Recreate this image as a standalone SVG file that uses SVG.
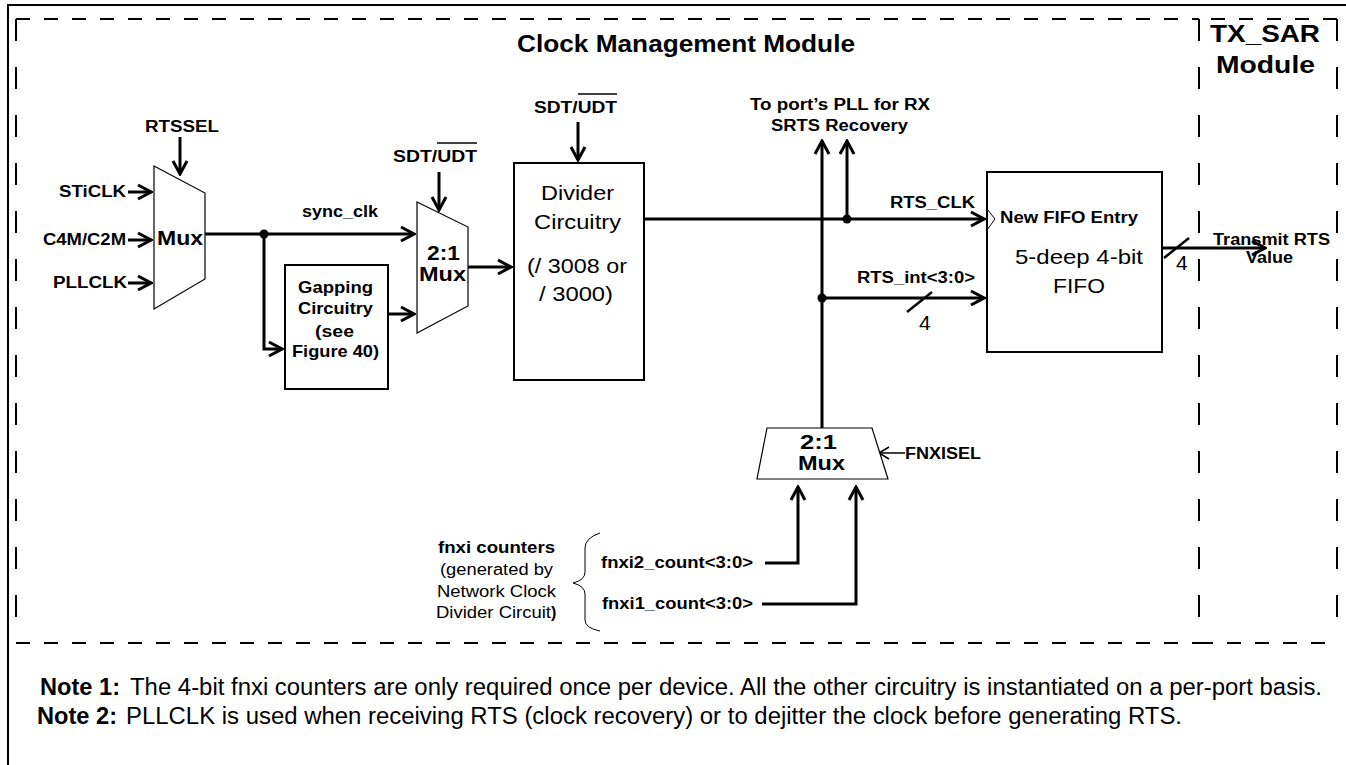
<svg xmlns="http://www.w3.org/2000/svg" width="1346" height="765" viewBox="0 0 1346 765">
<defs>
<style>
.b{font-family:"Liberation Sans",Arial,sans-serif;font-weight:bold;fill:#000}
.r{font-family:"Liberation Sans",Arial,sans-serif;font-weight:normal;fill:#000}
.w{stroke:#000;stroke-width:3;fill:none}
.thin{stroke:#000;stroke-width:1.2;fill:#fff}
.box{stroke:#000;stroke-width:2;fill:#fff}
.dh{stroke:#000;stroke-width:2;fill:none;stroke-dasharray:14 14}
.dv{stroke:#000;stroke-width:2;fill:none;stroke-dasharray:22 26}
</style>
<marker id="ah" viewBox="-16 -10 18 20" markerWidth="18" markerHeight="20" refX="0" refY="0" orient="auto" markerUnits="userSpaceOnUse">
<path d="M-13,-7 L0,0 L-13,7" fill="none" stroke="#000" stroke-width="3"/>
</marker>
<marker id="ahs" viewBox="-12 -8 14 16" markerWidth="14" markerHeight="16" refX="0" refY="0" orient="auto" markerUnits="userSpaceOnUse">
<path d="M-10,-6 L0,0 L-10,6" fill="none" stroke="#000" stroke-width="1.5"/>
</marker>
</defs>
<rect width="1346" height="765" fill="#fff"/>
<g id="frame">
<rect x="8" y="5" width="1345" height="770" fill="none" stroke="#000" stroke-width="2"/>
</g>
<g id="cmm-module">
<path class="dh" d="M16,19 H1199"/>
<path class="dh" d="M16,643 H1199"/>
<path class="dv" d="M16,19 V643"/>
<path class="dv" d="M1199,19 V643"/>
<text class="b" x="517" y="52" font-size="24" textLength="338" lengthAdjust="spacingAndGlyphs">Clock Management Module</text>
</g>
<g id="txsar-module">
<path class="dh" d="M1337,19 H1199"/>
<path class="dh" d="M1199,643 H1337"/>
<path class="dv" d="M1337,19 V643"/>
<text class="b" x="1210" y="42" font-size="24" textLength="110" lengthAdjust="spacingAndGlyphs">TX_SAR</text>
<text class="b" x="1216" y="73" font-size="24" textLength="99" lengthAdjust="spacingAndGlyphs">Module</text>
</g>
<g id="connectors">
<path class="w" d="M180,137 V174" marker-end="url(#ah)"/>
<path class="w" d="M128,192 H151" marker-end="url(#ah)"/>
<path class="w" d="M128,240 H151" marker-end="url(#ah)"/>
<path class="w" d="M128,283 H151" marker-end="url(#ah)"/>
<path class="w" d="M205,234 H414" marker-end="url(#ah)"/>
<circle cx="264" cy="234" r="4.5" fill="#000"/>
<path class="w" d="M264,234 V349 H282" marker-end="url(#ah)"/>
<path class="w" d="M388,314 H414" marker-end="url(#ah)"/>
<path class="w" d="M439,172 V210" marker-end="url(#ah)"/>
<path class="w" d="M468,267 H511" marker-end="url(#ah)"/>
<path class="w" d="M578,122 V160" marker-end="url(#ah)"/>
<path class="w" d="M644,219 H984" marker-end="url(#ah)"/>
<path class="w" d="M822,428 V141" marker-end="url(#ah)"/>
<path class="w" d="M847,219 V141" marker-end="url(#ah)"/>
<circle cx="847" cy="219" r="4.5" fill="#000"/>
<circle cx="822" cy="298" r="4.5" fill="#000"/>
<path class="w" d="M822,298 H984" marker-end="url(#ah)"/>
<path d="M907,312 L932,292" stroke="#000" stroke-width="2.5"/>
<path class="w" d="M1162,248 H1265" marker-end="url(#ah)"/>
<path d="M1164,258 L1189,238" stroke="#000" stroke-width="2.5"/>
<path class="w" d="M765,563 H798 V487" marker-end="url(#ah)"/>
<path class="w" d="M762,604 H856 V487" marker-end="url(#ah)"/>
<path d="M905,453 H879" stroke="#000" stroke-width="1.5" fill="none" marker-end="url(#ahs)"/>
</g>
<g id="labels">
<text class="b" x="145" y="132" font-size="16" textLength="74" lengthAdjust="spacingAndGlyphs">RTSSEL</text>
<text class="b" x="59" y="197" font-size="16" textLength="67" lengthAdjust="spacingAndGlyphs">STiCLK</text>
<text class="b" x="43" y="245" font-size="16" textLength="83" lengthAdjust="spacingAndGlyphs">C4M/C2M</text>
<text class="b" x="53" y="288" font-size="16" textLength="74" lengthAdjust="spacingAndGlyphs">PLLCLK</text>
<text class="b" x="302" y="217" font-size="16" textLength="76" lengthAdjust="spacingAndGlyphs">sync_clk</text>
<text class="b" x="393" y="162" font-size="16" textLength="84" lengthAdjust="spacingAndGlyphs">SDT/UDT</text>
<line x1="437" y1="143" x2="477" y2="143" stroke="#000" stroke-width="1.5"/>
<text class="b" x="534" y="113" font-size="16" textLength="83" lengthAdjust="spacingAndGlyphs">SDT/UDT</text>
<line x1="578" y1="94" x2="617" y2="94" stroke="#000" stroke-width="1.5"/>
<text class="b" x="750" y="110" font-size="16" textLength="180" lengthAdjust="spacingAndGlyphs">To port’s PLL for RX</text>
<text class="b" x="771" y="131" font-size="16" textLength="137" lengthAdjust="spacingAndGlyphs">SRTS Recovery</text>
<text class="b" x="890" y="208" font-size="16" textLength="85" lengthAdjust="spacingAndGlyphs">RTS_CLK</text>
<text class="b" x="857" y="283" font-size="16" textLength="118" lengthAdjust="spacingAndGlyphs">RTS_int&lt;3:0&gt;</text>
<text class="r" x="919" y="330" font-size="21">4</text>
<text class="r" x="1176" y="270" font-size="21">4</text>
<text class="b" x="1213" y="245" font-size="16" textLength="117" lengthAdjust="spacingAndGlyphs">Transmit RTS</text>
<text class="b" x="1246" y="263" font-size="16" textLength="47" lengthAdjust="spacingAndGlyphs">Value</text>
<text class="b" x="905" y="459" font-size="16" textLength="76" lengthAdjust="spacingAndGlyphs">FNXISEL</text>
<text class="b" x="601" y="568" font-size="16" textLength="152" lengthAdjust="spacingAndGlyphs">fnxi2_count&lt;3:0&gt;</text>
<text class="b" x="602" y="609" font-size="16" textLength="151" lengthAdjust="spacingAndGlyphs">fnxi1_count&lt;3:0&gt;</text>
</g>
<g id="mux-clk">
<polygon class="thin" points="154,166 205,193 205,279 154,309"/>
<text class="b" x="157" y="245" font-size="21" textLength="46" lengthAdjust="spacingAndGlyphs">Mux</text>
</g>
<g id="gapping">
<rect class="box" x="285" y="265" width="103" height="124"/>
<text class="b" x="298" y="293" font-size="17" textLength="75" lengthAdjust="spacingAndGlyphs">Gapping</text>
<text class="b" x="298" y="314" font-size="17" textLength="75" lengthAdjust="spacingAndGlyphs">Circuitry</text>
<text class="b" x="315" y="337" font-size="17" textLength="39" lengthAdjust="spacingAndGlyphs">(see</text>
<text class="b" x="292" y="357" font-size="17" textLength="87" lengthAdjust="spacingAndGlyphs">Figure 40)</text>
</g>
<g id="mux-2to1">
<polygon class="thin" points="417,202 468,227 468,306 417,333"/>
<text class="b" x="427" y="260" font-size="21" textLength="33" lengthAdjust="spacingAndGlyphs">2:1</text>
<text class="b" x="419" y="281" font-size="21" textLength="47" lengthAdjust="spacingAndGlyphs">Mux</text>
</g>
<g id="divider">
<rect class="box" x="514" y="163" width="130" height="217"/>
<text class="r" x="541" y="200" font-size="21" textLength="73" lengthAdjust="spacingAndGlyphs">Divider</text>
<text class="r" x="534" y="229" font-size="21" textLength="87" lengthAdjust="spacingAndGlyphs">Circuitry</text>
<text class="r" x="527" y="273" font-size="21" textLength="100" lengthAdjust="spacingAndGlyphs">(/ 3008 or</text>
<text class="r" x="539" y="301" font-size="21" textLength="74" lengthAdjust="spacingAndGlyphs">/ 3000)</text>
</g>
<g id="fifo">
<rect class="box" x="987" y="172" width="175" height="180"/>
<polyline points="987,209 995,219 987,230" fill="none" stroke="#000" stroke-width="1"/>
<text class="b" x="1000" y="223" font-size="16" textLength="138" lengthAdjust="spacingAndGlyphs">New FIFO Entry</text>
<text class="r" x="1015" y="264" font-size="21" textLength="128" lengthAdjust="spacingAndGlyphs">5-deep 4-bit</text>
<text class="r" x="1053" y="293" font-size="21" textLength="52" lengthAdjust="spacingAndGlyphs">FIFO</text>
</g>
<g id="mux-fnxi">
<polygon class="thin" points="767,428 872,428 888,479 757,479"/>
<text class="b" x="800" y="449" font-size="21" textLength="37" lengthAdjust="spacingAndGlyphs">2:1</text>
<text class="b" x="798" y="470" font-size="21" textLength="47" lengthAdjust="spacingAndGlyphs">Mux</text>
</g>
<g id="fnxi-counters">
<path d="M600,533 Q585,538 585,548 L585,572 Q585,580 573,583 Q585,586 585,594 L585,620 Q585,628 600,631" fill="none" stroke="#000" stroke-width="1"/>
<text class="b" x="438" y="553" font-size="16" textLength="117" lengthAdjust="spacingAndGlyphs">fnxi counters</text>
<text class="r" x="440" y="575" font-size="16" textLength="113" lengthAdjust="spacingAndGlyphs">(generated by</text>
<text class="r" x="437" y="597" font-size="16" textLength="119" lengthAdjust="spacingAndGlyphs">Network Clock</text>
<text class="r" x="436" y="618" font-size="16" textLength="115" lengthAdjust="spacingAndGlyphs">Divider Circuit</text>
<text class="b" x="551" y="618" font-size="16">)</text>
</g>
<g id="notes">
<text class="b" x="40" y="695" font-size="23" textLength="80" lengthAdjust="spacingAndGlyphs">Note 1:</text>
<text class="r" x="130" y="695" font-size="23" textLength="1192" lengthAdjust="spacingAndGlyphs">The 4-bit fnxi counters are only required once per device. All the other circuitry is instantiated on a per-port basis.</text>
<text class="b" x="37" y="724" font-size="23" textLength="80" lengthAdjust="spacingAndGlyphs">Note 2:</text>
<text class="r" x="126" y="724" font-size="23" textLength="1056" lengthAdjust="spacingAndGlyphs">PLLCLK is used when receiving RTS (clock recovery) or to dejitter the clock before generating RTS.</text>
</g>
</svg>
